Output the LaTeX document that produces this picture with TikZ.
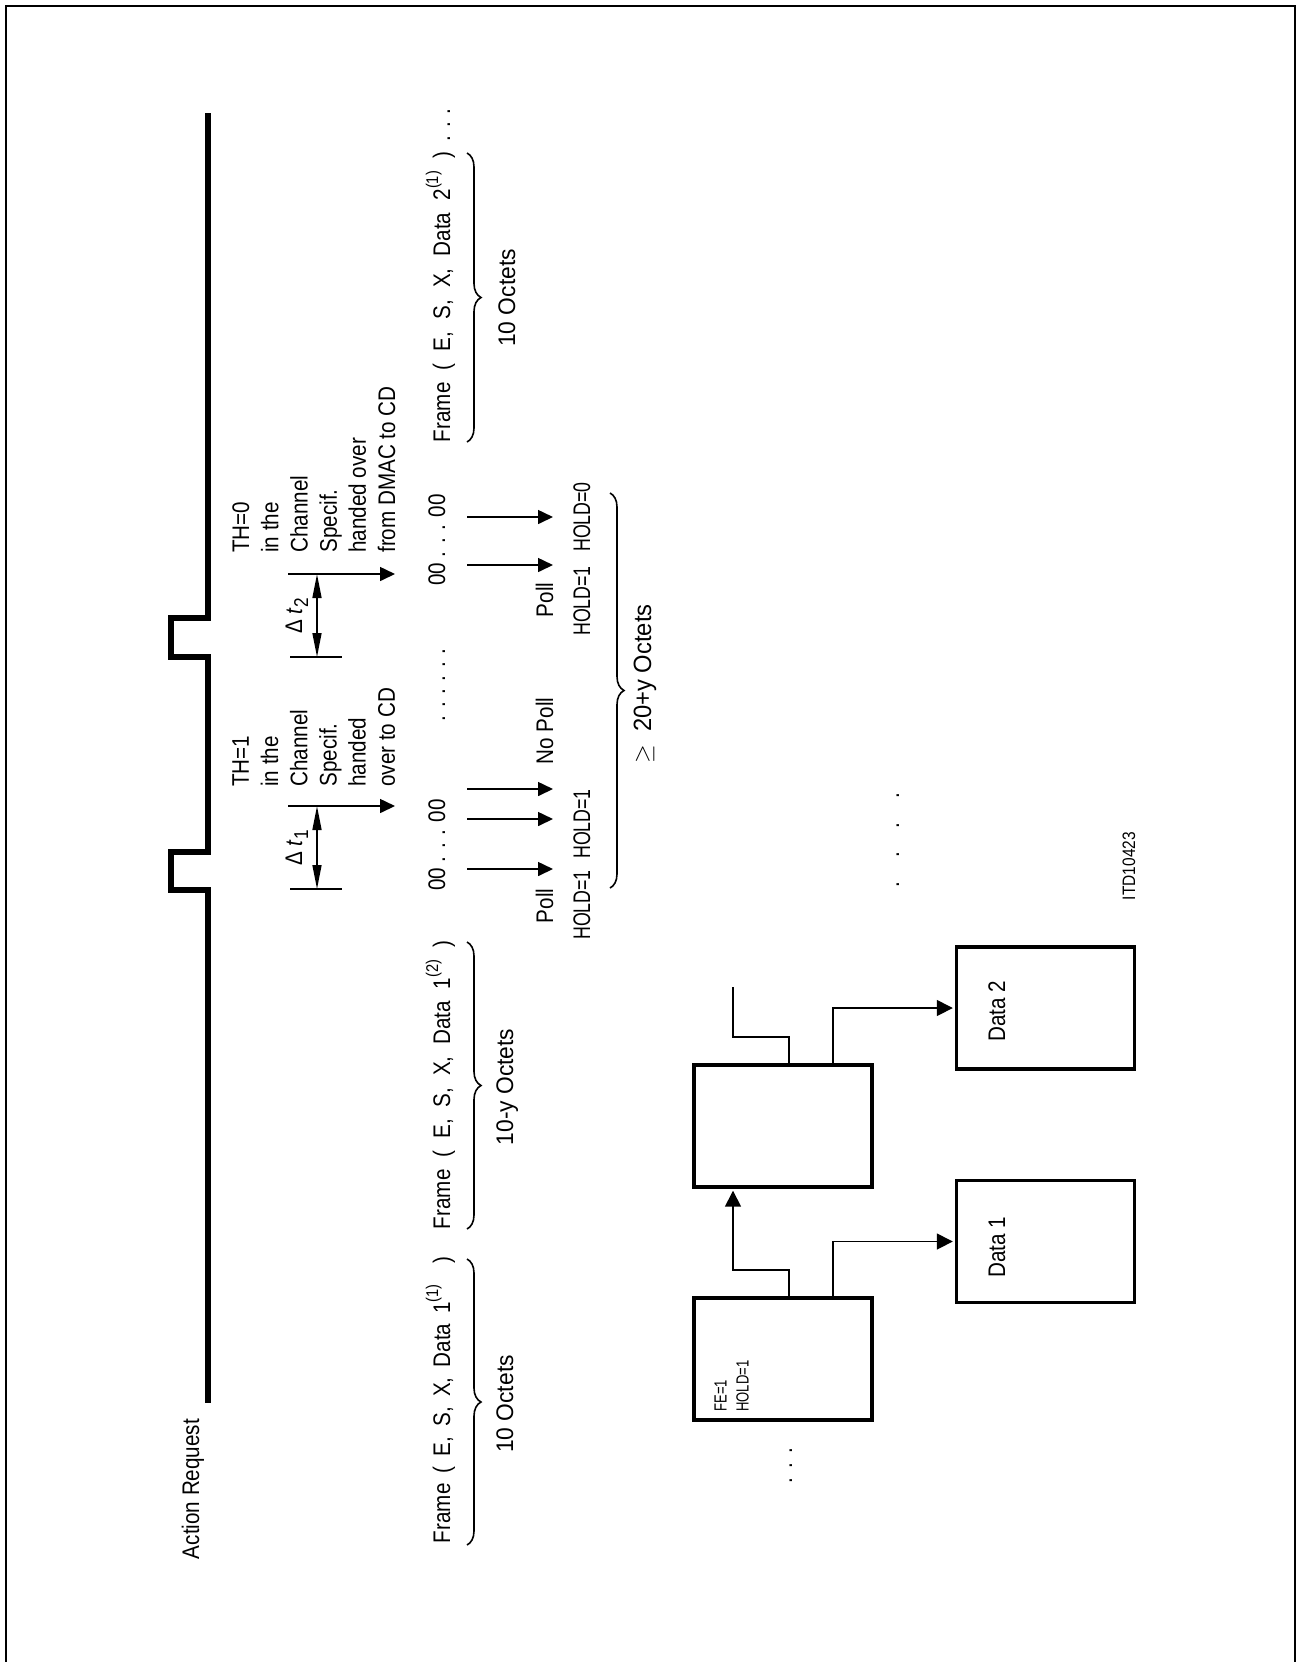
\documentclass[tikz,border=0pt]{standalone}
\usepackage{fontspec}
\setmainfont{Liberation Sans}[FakeStretch=0.86]
\newfontfamily\narrowf{Liberation Sans}[FakeStretch=0.74]
\newfontfamily\widef{Liberation Sans}[FakeStretch=0.95]
\usetikzlibrary{arrows.meta,decorations.pathreplacing,calc}
\newcommand{\mainsz}{\fontsize{12}{14.6}\selectfont}
\newcommand{\smallsz}{\fontsize{8.8}{11}\selectfont}
\newcommand{\itdsz}{\fontsize{9}{11}\selectfont}
\newcommand{\supnum}[1]{\raisebox{0.5em}{\fontsize{8.5}{8.5}\selectfont #1}}
\newcommand{\subnum}[1]{\raisebox{-0.25em}{\fontsize{10}{10}\selectfont #1}}
\begin{document}
\begin{tikzpicture}[x=0.5pt,y=-0.5pt,
 txt/.style={rotate=90,inner sep=0pt,font=\mainsz,anchor=base},
 holdtxt/.style={rotate=90,inner sep=0pt,font=\mainsz\narrowf,anchor=base},
 octtxt/.style={rotate=90,inner sep=0pt,font=\mainsz\widef,anchor=base},
 blk/.style={rotate=90,inner sep=0pt,font=\mainsz,align=left,anchor=north west},
 thinln/.style={line width=0.8pt},
 arr/.style={line width=0.8pt,-{Triangle[length=7.5pt,width=7pt]}},
 arrb/.style={line width=0.8pt,-{Triangle[length=8pt,width=8pt]},shorten >=0.9pt},
 dimarr/.style={line width=0.8pt,{Triangle[length=12pt,width=4.5pt]}-{Triangle[length=12pt,width=4.5pt]}},
 box/.style={draw,line width=1.9pt,minimum width=89pt,minimum height=61pt,inner sep=0pt},
 brc/.style={line width=0.8pt,decorate,decoration={brace,amplitude=7pt}},
 wave/.style={line width=3pt},
]
\useasboundingbox (0,0) rectangle (1297,1662);
% outer frame
\draw[line width=1pt] (6,1700) -- (6,6) -- (1295,6) -- (1295,1700);

% Action Request waveform
\draw[wave] (208,113) -- (208,618) -- (171,618) -- (171,657) -- (208,657)
  -- (208,852) -- (171,852) -- (171,890) -- (208,890) -- (208,1403);
\node[txt] (ar) at (199,1489) {Action Request};

% TH text blocks
\node[blk] (th1) at (232,787) {TH=1\\in the\\Channel\\Specif.\\handed\\over to CD};
\node[blk] (th0) at (232,553) {TH=0\\in the\\Channel\\Specif.\\handed over\\from DMAC to CD};

% Delta t markers
\coordinate (t1a) at (288,806); \coordinate (t1b) at (395,806);
\coordinate (t1c) at (290,889); \coordinate (t1d) at (342,889);
\draw[arr] (t1a) -- (t1b);
\draw[thinln] (t1c) -- (t1d);
\draw[dimarr] (317,806) -- (317,889);
\node[txt] (dt1) at (302,848) {Δ\hspace{3pt}\textit{t}\subnum{1}};

\coordinate (t2a) at (288,574); \coordinate (t2b) at (395,574);
\coordinate (t2c) at (290,657); \coordinate (t2d) at (342,657);
\draw[arr] (t2a) -- (t2b);
\draw[thinln] (t2c) -- (t2d);
\draw[dimarr] (317,574) -- (317,657);
\node[txt] (dt2) at (302,616) {Δ\hspace{3pt}\textit{t}\subnum{2}};

% octet streams
\node[txt] (z1) at (445,845) {00 . . . 00};
\node[txt] (z2) at (445,540) {00 . . . 00};
\node[txt] (md) at (445,685) {. . . . . .};

\foreach \yy/\nm in {869/a1,819/a2,789/a3,565/a4,517/a5}{
  \coordinate (s\nm) at (467,\yy); \coordinate (e\nm) at (553,\yy);
  \draw[arr] (s\nm) -- (e\nm);
}
\node[txt] (poll1) at (553,906) {Poll};
\node[holdtxt] (hold1) at (590,905) {HOLD=1};
\node[holdtxt] (hold2) at (590,824) {HOLD=1};
\node[txt] (nopoll) at (553,731) {No Poll};
\node[txt] (poll2) at (553,600) {Poll};
\node[holdtxt] (hold3) at (590,601) {HOLD=1};
\node[holdtxt] (hold0) at (590,517) {HOLD=0};

% frames
\node[txt] (f1) at (450,1400) {\makebox[143pt][s]{Frame ( E, S, X, Data 1\supnum{(1)} \ )}};
\node[txt] (f2) at (450,1085) {\makebox[144pt][s]{Frame ( E, S, X, Data 1\supnum{(2)} )}};
\node[txt] (f3) at (450,297) {\makebox[145pt][s]{Frame ( E, S, X, Data 2\supnum{(1)} )}};
\node[txt] (f3d) at (450,125) {. . .};

% braces
\draw[brc] (467,1259) -- (467,1545);
\draw[brc] (467,942) -- (467,1229);
\draw[brc] (467,153) -- (467,442);
\draw[brc] (610,493) -- (610,888);
\node[octtxt] (o1) at (513,1404) {10 Octets};
\node[octtxt] (o2) at (513,1087) {10-y Octets};
\node[octtxt] (o3) at (515,298) {10 Octets};
\node[rotate=90,inner sep=0pt,anchor=base,font=\fontsize{12.5}{14}\selectfont\widef] (o4) at (651,684) {$\geq$\ \ 20+y Octets};

% boxes
\node[box] (boxA) at (783,1359) {};
\node[box] (boxB) at (783,1126) {};
\node[box] (dataA) at (1045.5,1241.5) {};
\node[box] (dataB) at (1045.5,1008) {};
\node[rotate=90,inner sep=0pt,font=\smallsz\narrowf,align=left,anchor=north west] (fe) at (714,1412) {FE=1\\HOLD=1};
\node[txt] (d1t) at (1005,1247) {Data 1};
\node[txt] (d2t) at (1005,1011) {Data 2};

\draw[arrb] (789,0 |- boxA.north) -- (789,1270) -- (733,1270) -- (733,0 |- boxB.south);
\draw[arrb] (833,0 |- boxA.north) |- (dataA.west);
\draw[arrb] (833,0 |- boxB.north) |- (dataB.west);
\coordinate (free) at (733,987);
\draw[thinln] (789,0 |- boxB.north) -- (789,1037) -- (733,1037) -- (free);

% dots
\node[txt] (dots3) at (792,1466) {.\hspace{4.6pt}.\hspace{4.6pt}.};
\node[txt] (dots4) at (899,840) {.\hspace{12pt}.\hspace{12pt}.\hspace{12pt}.};
\node[rotate=90,inner sep=0pt,font=\itdsz,anchor=base] (itd) at (1135,866) {ITD10423};
\end{tikzpicture}
\end{document}
